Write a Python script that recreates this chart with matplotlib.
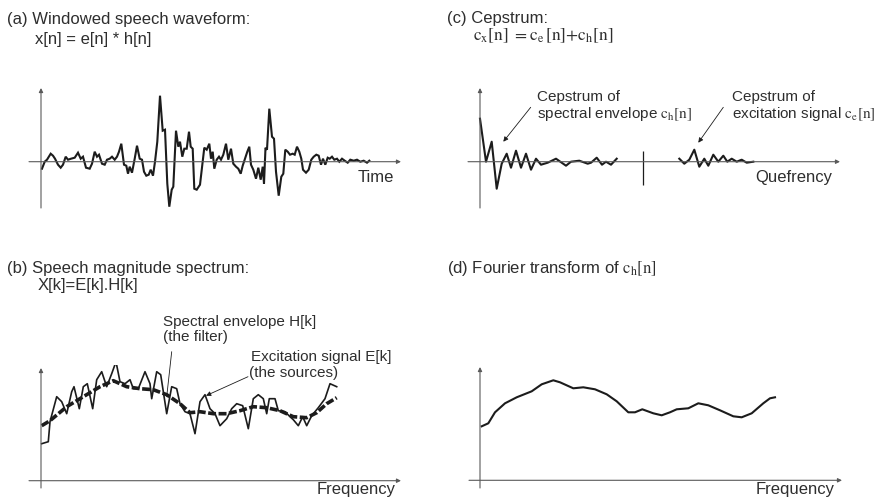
import numpy as np
import matplotlib
matplotlib.use("Agg")
import matplotlib.pyplot as plt

plt.rcParams['font.family'] = ['Liberation Sans', 'DejaVu Sans']
plt.rcParams['mathtext.fontset'] = 'stix'

W, H = 878, 498
INK = '#1c1c1c'
TXT = '#2e2e2e'
AXC = '#5a5a5a'

# (a) windowed speech waveform: time offset, amplitude
wave_t = [1, 3.7, 6, 9.7, 12, 14, 17, 19.7, 22, 24.7, 27, 30, 33.7, 37, 39.7, 42, 45, 48.7, 51, 53.7,
          56, 58, 61, 63.7, 66, 68.7, 71, 73.7, 76, 78, 80.3, 83, 85.3, 87, 88.7, 91, 93.7, 96, 98.7, 101,
          103, 105.3, 107.7, 109.7, 112,
          114, 116.3, 119, 121.7, 124, 126.3, 128.3, 130.7, 132.3, 135, 137.3, 139, 141.3, 143.3, 145.7,
          148, 149.7, 151.7, 153.3, 155.7, 159, 161.3, 163.3, 165.7, 168.3, 170, 171.7, 173.3, 175.7, 178,
          180, 182.3, 185, 187.3, 190, 192.3, 195, 197.3, 199.7, 201.7, 204, 206.3, 208.3, 210, 212.3, 215,
          217.3, 219.7, 221.7,
          223, 224.5, 226, 228.3, 231, 233, 235, 237.7, 240.3, 242.3, 244.3, 246.7, 249, 251.7, 253.7, 256,
          258.3, 260.3, 262, 265, 267.7, 270.3, 272.7, 275.3, 277.7, 280, 282, 284.3, 286.7, 288.7, 291,
          293.3, 296, 298.3, 301, 303.7, 306.7, 309.3, 312.7, 316, 319.3, 322.7, 326, 328.3]
wave_v = [-7, 0, 2, 8, 6, 3, -3, -6, -3, 5, 2, 3, 4, 9, 3, 5, -6, -7, -2, 10,
          5, 7, -2, -3, 2, 3, 5, 2, 5, 10, 18, -3, -4, -12, -5, -11, 3, 16, 3, 2,
          -10, -14, -13, -8, -14,
          0, 20, 66, 31, 32, -22, -45, -28, -25, 31, 15, 20, 5, 13, 13,
          30, 15, 13, -27, -28, -23, -3, 14, 12, 18, 3, 10, -7, 2, 5,
          2, 7, 18, 2, 13, -2, -5, -7, -12, -4, 3, 10, 15, -3, -8, -17,
          -6, -18, -5,
          -22, 14, 12, 53, 25, 23, -10, -34, -15, -12, 12, 10, 7, 8, 7, 15,
          10, 3, -8, -11, -8, 2, 5, 7, 6, -3, 3, -3, 4, 3, 5,
          2, 3, 0, 3, 1, -1, 2, 1, 2, 0, 1, -1, 1]

# (b) magnitude spectrum X[k] and envelope H[k]
spec_k = [0.7, 7.3, 9, 15.7, 20.7, 25.7, 30.7, 33, 38.3, 42.3, 46.3, 51.7, 55.7, 60.7, 65.7, 70.7,
          75, 79, 84, 89, 92.3, 97.3, 104, 109, 110.7, 115.7, 119.7, 125.7, 130.7, 135.7, 139, 144,
          149, 154, 159, 164, 169, 174, 179, 185.7, 190.7, 195.7, 201.7, 207.3, 212.3, 217.3, 222.3,
          225.7, 228.3, 234, 237.3, 244, 249, 252.3, 257.3, 261.7, 265.7, 270.7, 277.3, 284, 289, 295.7]
spec_x = [37, 39, 59, 84, 79, 67, 89, 94, 72, 94, 97, 72, 101, 109, 94, 107,
          119, 99, 97, 101, 92, 92, 109, 97, 82, 109, 106, 67, 94, 92, 77, 69,
          67, 47, 79, 86, 72, 67, 55, 62, 72, 77, 75, 52, 82, 86, 82,
          67, 82, 82, 70, 69, 64, 61, 55, 64, 55, 65, 73, 82, 97, 94]
env_k = [0.7, 9, 25.7, 42.3, 59, 72.3, 85.7, 99, 112.3, 125.7, 139, 149, 159, 172.3, 185.7, 199,
         212.3, 225.7, 239, 252.3, 265.7, 275.7, 285.7, 295.7]
env_h = [55, 60, 74, 84, 94, 100, 94, 92, 91, 86, 77, 68, 69, 67, 67, 70,
         74, 73, 70, 64, 63, 68, 77, 83]

# (c) cepstrum: low-quefrency part (envelope) and high-quefrency part (excitation)
cep_q_low = [0, 6, 11.7, 16.7, 21.7, 26.7, 31, 36, 41, 46, 51, 56, 61, 67.7, 76, 86, 91, 99.3,
             107.7, 111, 116.7, 122, 126, 131, 136.7]
cep_v_low = [43, 0, 20, -27, -2, 8, -6, 11, -6, 8, -8, 3, -3, -1, 3, -4, 0, 1,
             -2, -1, 4, -3, 0, -3, 3]
cep_q_high = [199.3, 204.3, 209.3, 214.3, 219.3, 224.3, 228.3, 233.3, 238.3, 243.3, 247.3, 251.7,
              256.7, 261.7, 266.7, 273.3]
cep_v_high = [3, -2, 2, 12, -5, 3, -4, 7, 0, 6, 0, 3, 0, 2, -1, 0]
divider_q = 163

# (d) Fourier transform of c_h[n]
ft_f = [1.7, 8.3, 15, 25, 36.7, 51.7, 61.7, 73.3, 80, 93.3, 103.3, 115, 126.7, 136.7, 148.3, 155,
        162.3, 173.3, 181.7, 190, 196.7, 208.3, 218.3, 228.3, 240, 253.3, 261.7, 271.7, 283.3, 290, 295]
ft_v = [54, 57, 68, 77, 83, 89, 96, 100, 98, 92, 93, 91, 86, 79, 68, 68,
        71, 67, 65, 68, 71, 72, 77, 75, 70, 64, 63, 67, 77, 82, 83]

fig = plt.figure(figsize=(W / 100, H / 100), dpi=100)


def ftext(x, y, s, size=12, **kw):
    fig.text(x / W, 1 - y / H, s, va='baseline', ha='left', fontsize=size, color=TXT, **kw)


def panel(xa, ya, origin):
    # xa, ya: pixel extent of the drawn axis arrows, origin: pixel position of (0, 0)
    ox, oy = origin
    x0, x1 = xa[0] - 2, xa[1] + 3
    y0, y1 = ya[0] - 3, ya[1] + 2
    ax = fig.add_axes([x0 / W, 1 - y1 / H, (x1 - x0) / W, (y1 - y0) / H])
    ax.set_xlim(x0 - ox, x1 - ox)
    ax.set_ylim(oy - y1, oy - y0)
    ax.axis('off')
    ap = dict(arrowstyle='-|>', lw=0.8, color=AXC, mutation_scale=6, shrinkA=0, shrinkB=0)
    ax.annotate('', xy=(xa[1] - ox, 0), xytext=(xa[0] - ox, 0), arrowprops=ap, annotation_clip=False)
    ax.annotate('', xy=(0, oy - ya[0]), xytext=(0, oy - ya[1]), arrowprops=ap, annotation_clip=False)
    return ax


def pointer(ax, start, end, head=True):
    ap = dict(arrowstyle='-|>' if head else '-', lw=0.6, color=INK, mutation_scale=7,
              shrinkA=0, shrinkB=0)
    ax.annotate('', xy=end, xytext=start, arrowprops=ap, annotation_clip=False)


# (a)
ax_a = panel((29, 401), (88, 208), (41, 161.7))
ax_a.plot(wave_t, wave_v, color=INK, lw=1.5, solid_joinstyle='miter')
ftext(7, 24, '(a) Windowed speech waveform:')
ftext(35, 44, 'x[n] = e[n] * h[n]')
ftext(358, 182, 'Time')

# (c)
ax_c = panel((468, 840), (88, 208), (480, 161.7))
ax_c.plot(cep_q_low, cep_v_low, color=INK, lw=1.5)
ax_c.plot(cep_q_high, cep_v_high, color=INK, lw=1.5)
ax_c.vlines(divider_q, -23, 11, color=INK, lw=0.9)
pointer(ax_c, (50.7, 54.4), (23.3, 20))
pointer(ax_c, (243.3, 54.4), (218.3, 19))
ftext(447, 23, '(c) Cepstrum:')
ftext(473, 40, r'$\mathrm{c_x[n]\ {=}c_e\,[n]{+}c_h[n]}$', size=12.5)
ftext(537, 101.5, 'Cepstrum of', size=11)
ftext(537, 118, r'spectral envelope $\mathrm{c_h[n]}$', size=11)
ftext(732, 101.5, 'Cepstrum of', size=11)
ftext(732, 118, r'excitation signal $\mathrm{c_e[n]}$', size=11)
ftext(755, 182, 'Quefrency')

# (b)
ax_b = panel((29, 401), (368, 488), (41, 480.7))
ax_b.plot(spec_k, spec_x, color=INK, lw=1.2)
ax_b.plot(env_k, env_h, color=INK, lw=2.6, dashes=(2.2, 0.7))
pointer(ax_b, (130.7, 129), (125.7, 84), head=False)
pointer(ax_b, (207, 104), (165, 85))
ftext(7, 273, '(b) Speech magnitude spectrum:')
ftext(38, 290, 'X[k]=E[k].H[k]')
ftext(163, 326, 'Spectral envelope H[k]', size=11)
ftext(163, 341.5, '(the filter)', size=11)
ftext(251, 360.5, 'Excitation signal E[k]', size=11)
ftext(249, 376.5, '(the sources)', size=11)
ftext(317, 494, 'Frequency')

# (d)
ax_d = panel((469, 842), (367, 488), (480, 480.3))
ax_d.plot(ft_f, ft_v, color=INK, lw=1.5)
ftext(447, 273, r'(d) Fourier transform of $\mathrm{c_h[n]}$')
ftext(756, 494, 'Frequency')

fig.savefig('out.png', dpi=100)
